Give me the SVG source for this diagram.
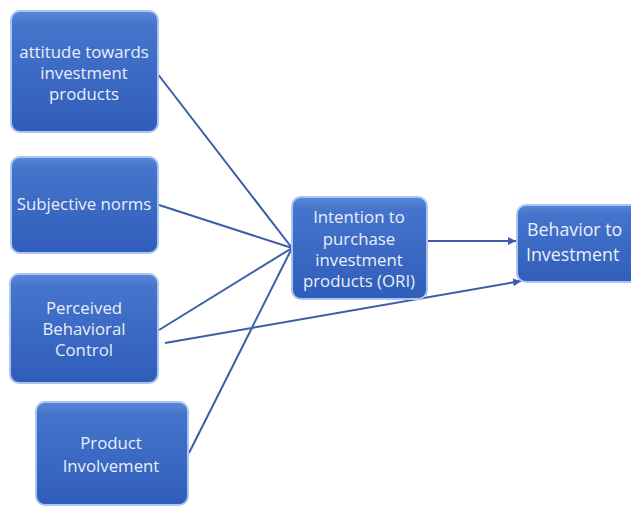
<svg xmlns="http://www.w3.org/2000/svg" width="631" height="506" viewBox="0 0 631 506">
<defs>
<linearGradient id="g" x1="0" y1="0" x2="0" y2="1">
<stop offset="0" stop-color="#5a86d6"/>
<stop offset="0.12" stop-color="#4574cc"/>
<stop offset="1" stop-color="#2f5db9"/>
</linearGradient>
<marker id="arr" viewBox="0 0 10 10" refX="10" refY="5" markerWidth="8" markerHeight="8" markerUnits="userSpaceOnUse" orient="auto">
<path d="M0,0 L10,5 L0,10 z" fill="#3b5ea8"/>
</marker>
<style>
.box{fill:url(#g);stroke:#a9c6f2;stroke-width:2}
.t{font-family:"Open Sans","Liberation Sans",sans-serif;font-size:16.8px;fill:#e9effa;text-anchor:middle}
.tb{font-family:"Open Sans","Liberation Sans",sans-serif;font-size:17.8px;fill:#e9effa}
.c{stroke:#3b5ea8;stroke-width:2;fill:none}
</style>
</defs>
<rect width="631" height="506" fill="#ffffff"/>
<g id="connectors">
<line class="c" x1="157" y1="73" x2="292" y2="248"/>
<line class="c" x1="159" y1="205" x2="292" y2="248"/>
<line class="c" x1="159" y1="330" x2="292" y2="248"/>
<line class="c" x1="189" y1="453" x2="292" y2="248"/>
<line class="c" x1="165" y1="343" x2="521" y2="281" marker-end="url(#arr)"/>
<line class="c" x1="427" y1="241" x2="516" y2="241" marker-end="url(#arr)"/>
</g>
<g id="attitude">
<rect class="box" x="11" y="11" width="147" height="121" rx="9"/>
<text class="t" x="84" y="58">attitude towards</text>
<text class="t" x="84" y="79">investment</text>
<text class="t" x="84" y="100">products</text>
</g>
<g id="subjective">
<rect class="box" x="11" y="157" width="147" height="96" rx="9"/>
<text class="t" x="84" y="210">Subjective norms</text>
</g>
<g id="pbc">
<rect class="box" x="10" y="274" width="148" height="109" rx="9"/>
<text class="t" x="84" y="314">Perceived</text>
<text class="t" x="84" y="335">Behavioral</text>
<text class="t" x="84" y="356">Control</text>
</g>
<g id="involvement">
<rect class="box" x="36" y="402" width="152" height="103" rx="9"/>
<text class="t" x="111" y="449">Product</text>
<text class="t" x="111" y="472">Involvement</text>
</g>
<g id="intention">
<rect class="box" x="292" y="197" width="135" height="102" rx="9"/>
<text class="t" x="359" y="223">Intention to</text>
<text class="t" x="359" y="245">purchase</text>
<text class="t" x="359" y="266">investment</text>
<text class="t" x="359" y="287">products (ORI)</text>
</g>
<g id="behavior">
<rect class="box" x="517" y="205" width="130" height="77" rx="9"/>
<text class="tb" x="527" y="236">Behavior to</text>
<text class="tb" x="526" y="261">Investment</text>
</g>
</svg>
